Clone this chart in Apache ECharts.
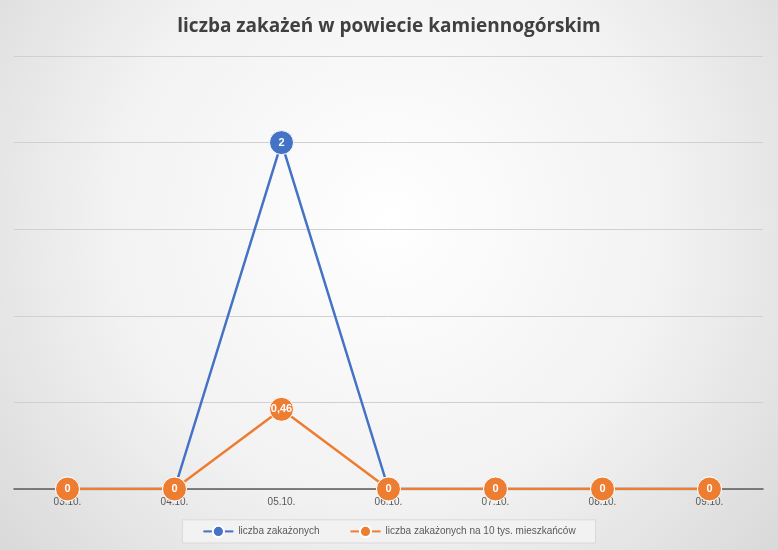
<!DOCTYPE html>
<html><head><meta charset="utf-8">
<script src="https://cdn.jsdelivr.net/npm/echarts@6/dist/echarts.min.js"></script>
<style>html,body{margin:0;padding:0}#c{width:778px;height:550px;background:radial-gradient(circle at 50% 40%,#ffffff 0%,#f2f2f2 55%,#d9d9d9 100%)}</style>
</head><body><div id="c"></div>
<script>
const categories=['03.10.','04.10.','05.10.','06.10.','07.10.','08.10.','09.10.'];
const zakazonych=[0,0,2,0,0,0,0];
const na10tys=[0,0,0.46,0,0,0,0];
const chart=echarts.init(document.getElementById('c'));
const lbl={show:true,position:'inside',color:'#fff',fontWeight:'bold',fontSize:11,fontFamily:'Liberation Sans',formatter:p=>String(p.value).replace('.',',')};
chart.setOption({
 title:{text:'liczba zakażeń w powiecie kamiennogórskim',left:'center',top:12,textStyle:{fontFamily:'Open Sans',fontSize:19,fontWeight:'bold',color:'#404040'}},
 grid:{left:14,right:15,top:56,bottom:61},
 legend:{bottom:7,left:'center',itemGap:30,backgroundColor:'#f2f2f2',borderColor:'#d9d9d9',borderWidth:1,padding:[5,20],textStyle:{fontSize:10,color:'#595959',fontFamily:'Liberation Sans'},itemWidth:30,
  data:['liczba zakażonych','liczba zakażonych na 10 tys. mieszkańców']},
 xAxis:{type:'category',data:categories,boundaryGap:true,axisTick:{show:false},axisLine:{lineStyle:{color:'#595959',width:1.5}},axisLabel:{color:'#595959',fontSize:10,fontFamily:'Liberation Sans'}},
 yAxis:{type:'value',min:0,max:2.5,interval:0.5,axisLabel:{show:false},splitLine:{lineStyle:{color:'#d0d0d0'}},axisLine:{show:false}},
 series:[
  {name:'liczba zakażonych',type:'line',data:zakazonych,color:'#4472c4',lineStyle:{width:2.5},symbol:'circle',symbolSize:24,itemStyle:{borderColor:'#fff',borderWidth:1},label:{...lbl,formatter:p=>p.value?String(p.value):''}},
  {name:'liczba zakażonych na 10 tys. mieszkańców',type:'line',data:na10tys,color:'#ed7d31',lineStyle:{width:2.5},symbol:'circle',symbolSize:24,itemStyle:{borderColor:'#fff',borderWidth:1},label:lbl}
 ]
});
</script></body></html>
